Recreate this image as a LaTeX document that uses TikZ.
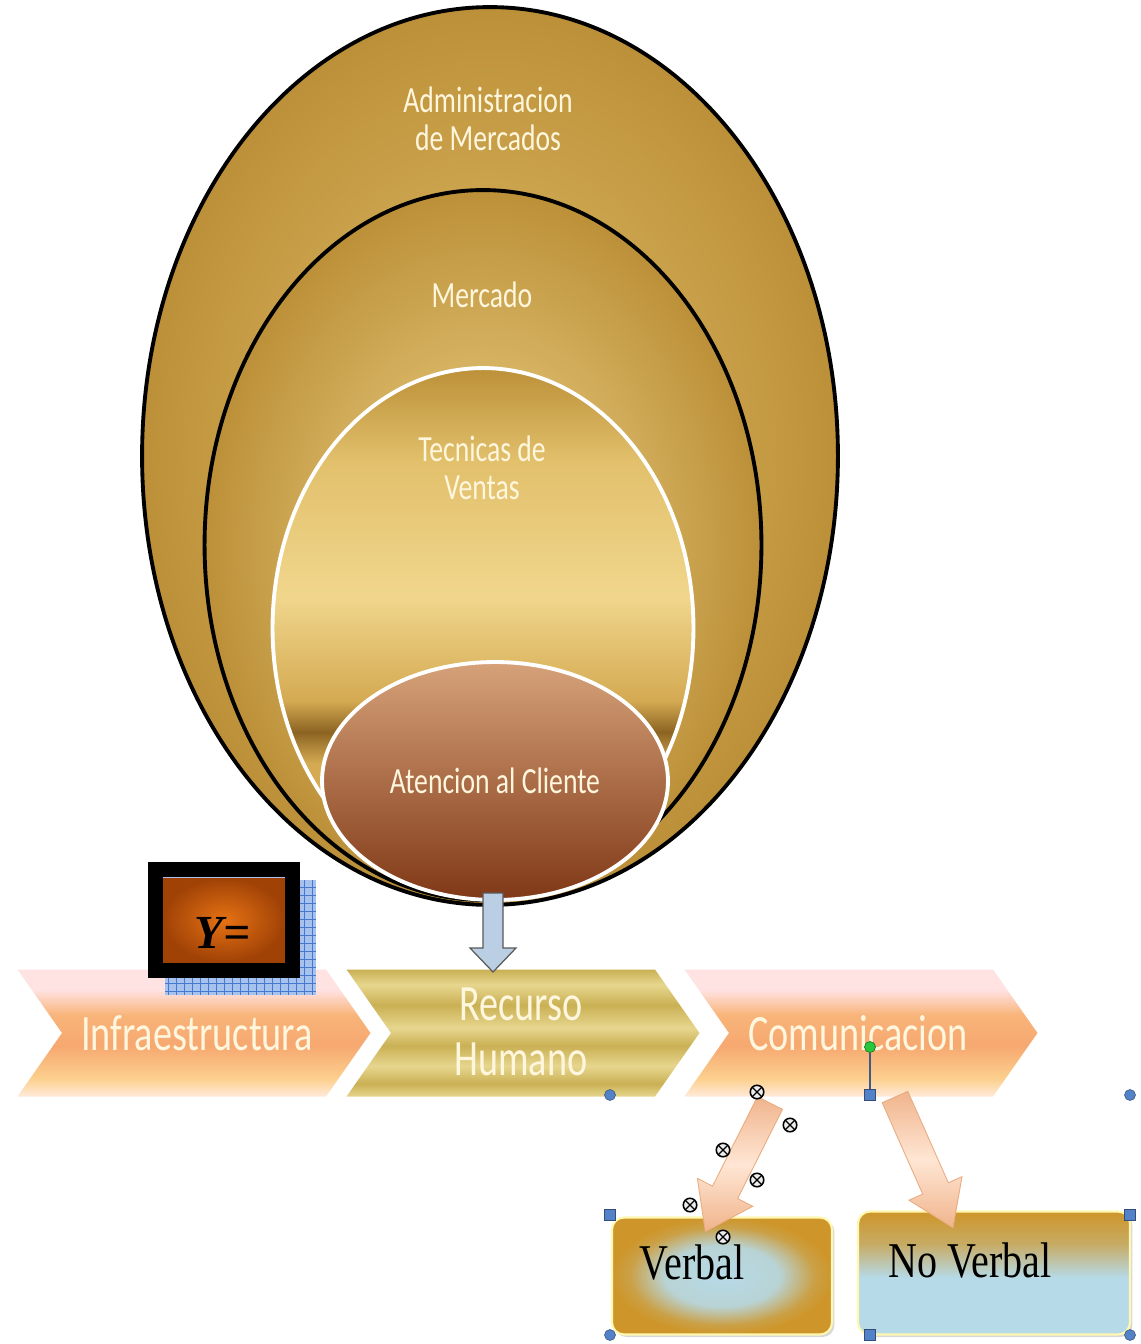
\documentclass[tikz,border=0pt]{standalone}
\usepackage{fontspec}
\setmainfont{Liberation Serif}
\newfontfamily\calibri[FakeStretch=0.75]{Carlito}
\newfontfamily\timesn[FakeStretch=0.8]{Liberation Serif}
\usetikzlibrary{shapes,calc,shadows}
\definecolor{goldouter}{RGB}{188,144,56}
\definecolor{goldinner}{RGB}{226,192,108}
\definecolor{goldlight}{RGB}{240,214,140}
\definecolor{golddark}{RGB}{140,100,34}
\definecolor{goldmid}{RGB}{212,170,82}
\definecolor{atetop}{RGB}{214,162,122}
\definecolor{atebot}{RGB}{128,56,22}
\definecolor{cream}{RGB}{255,246,222}
\definecolor{peach}{RGB}{246,168,112}
\definecolor{peachlight}{RGB}{255,234,218}
\definecolor{pinktop}{RGB}{255,226,226}
\definecolor{chevyellow}{RGB}{252,208,142}
\definecolor{chevgold}{RGB}{202,176,84}
\definecolor{chevgoldlight}{RGB}{230,214,142}
\definecolor{ybrown}{RGB}{160,66,6}
\definecolor{yorange}{RGB}{230,114,20}
\definecolor{gridblue}{RGB}{70,120,210}
\definecolor{gridfill}{RGB}{168,194,238}
\definecolor{arrowblue}{RGB}{186,206,228}
\definecolor{boxgold}{RGB}{206,150,42}
\definecolor{boxblue}{RGB}{182,218,232}
\definecolor{handleblue}{RGB}{84,130,200}
\definecolor{handlegreen}{RGB}{40,200,60}
\definecolor{arrowpeach}{RGB}{240,180,140}
\definecolor{arrowlight}{RGB}{255,230,212}

% shadings (the path is fitted into 25bp--75bp)
\pgfdeclareverticalshading{chevorange}{100bp}{color(0bp)=(peachlight); color(25bp)=(peachlight); color(32bp)=(chevyellow); color(45bp)=(peach); color(57bp)=(peach!70!chevyellow); color(67bp)=(pinktop); color(75bp)=(pinktop); color(100bp)=(pinktop)}
\pgfdeclareverticalshading{chevstripes}{100bp}{color(0bp)=(chevgoldlight); color(25bp)=(chevgoldlight); color(30bp)=(chevgold); color(37bp)=(chevgoldlight); color(45bp)=(chevgold); color(52bp)=(chevgoldlight); color(61bp)=(chevgold); color(69bp)=(chevgoldlight); color(75bp)=(chevgold); color(100bp)=(chevgold)}
\pgfdeclareverticalshading{tecband}{100bp}{color(0bp)=(goldmid); color(25bp)=(goldmid); color(37bp)=(goldmid); color(40bp)=(golddark); color(43bp)=(goldmid); color(53bp)=(goldlight); color(66bp)=(goldinner); color(75bp)=(goldouter); color(100bp)=(goldouter)}
\pgfdeclareverticalshading{goldtoblue}{100bp}{color(0bp)=(boxblue); color(25bp)=(boxblue); color(48bp)=(boxblue); color(62bp)=(boxgold!70!boxblue); color(75bp)=(boxgold); color(100bp)=(boxgold)}
\pgfdeclareradialshading{boxglow}{\pgfpoint{0bp}{0bp}}{color(0bp)=(boxblue); color(13bp)=(boxblue!90!boxgold); color(21bp)=(boxgold!85!boxblue); color(25bp)=(boxgold); color(50bp)=(boxgold)}

\begin{document}
\begin{tikzpicture}[x=0.02cm, y=-0.02cm,
    ring/.style={ellipse, inner sep=0, line width=2.2pt},
    lbl/.style={text=cream, font=\calibri\fontsize{21}{21.5}\selectfont, align=center, inner sep=0},
    chev/.style={signal, signal from=west, signal to=east, signal pointer angle=110,
        minimum width=7.06cm, minimum height=2.54cm, inner sep=0, shading=#1},
    chevlbl/.style={text=cream, font=\calibri\fontsize{29}{31}\selectfont, align=center, inner sep=0},
    box/.style={rounded corners=0.24cm, draw=cream!80!yellow, line width=1.2pt, inner sep=0,
        drop shadow={opacity=0.3, shadow xshift=0.05cm, shadow yshift=-0.05cm}},
    boxlbl/.style={font=\timesn\fontsize{28.5}{30}\selectfont, inner sep=0},
    blockarr/.style={top color=arrowpeach, bottom color=arrowpeach, middle color=arrowlight,
        draw=arrowpeach!85!brown, line width=0.5pt},
    dot/.style={circle, fill=handleblue, draw=handleblue!60!black, line width=0.3pt, minimum size=0.22cm, inner sep=0},
    sq/.style={rectangle, fill=handleblue, draw=handleblue!60!black, line width=0.3pt, minimum size=0.22cm, inner sep=0},
    omark/.style={circle, draw=black, fill=gray!15, line width=0.9pt, minimum size=0.27cm, inner sep=0,
        path picture={\draw[line width=0.7pt] (path picture bounding box.north west) -- (path picture bounding box.south east)
            (path picture bounding box.north east) -- (path picture bounding box.south west);}}
]
\useasboundingbox (0,0) rectangle (1141,1344);
\fill[white] (0,0) rectangle (1141,1344);

% nested rings
\node[ring, draw=black, inner color=goldinner, outer color=goldouter,
    minimum width=13.92cm, minimum height=17.96cm] (adm) at (490,456) {};
\node[ring, draw=black, inner color=goldlight, outer color=goldouter,
    minimum width=11.14cm, minimum height=14.2cm] (mer) at (483,545) {};
\node[ring, draw=white, shading=tecband,
    minimum width=8.42cm, minimum height=10.4cm] (tec) at (483,628) {};
\node[ring, draw=white, top color=atetop, bottom color=atebot,
    minimum width=6.92cm, minimum height=4.76cm, lbl] (ate) at (495,781) {Atencion al Cliente};

\node[lbl] (admtxt) at (488,119) {Administracion\\de Mercados};
\node[lbl] (mertxt) at (482,295) {Mercado};
\node[lbl] (tectxt) at (482,468) {Tecnicas de\\Ventas};

% chevrons
\node[chev=chevorange] (inf) at (194,1033) {};
\node[chev=chevstripes] (rec) at (523,1033) {};
\node[chev=chevorange] (com) at (861,1033) {};
\node[chevlbl] (inftxt) at (197,1033) {Infraestructura};
\node[chevlbl] (rectxt) at (521,1032) {Recurso\\Humano};
\node[chevlbl] (comtxt) at (858,1033) {Comunicacion};

% Y= box
\fill[gridfill] (165,880) rectangle (316,995);
\draw[gridblue, line width=0.4pt, step=0.16cm] (165,880) grid (316,995);
\node[fill=black, minimum width=3.04cm, minimum height=2.32cm, inner sep=0] (yblack) at (224,920) {};
\node[inner color=yorange, outer color=ybrown, minimum width=2.44cm, minimum height=1.68cm, inner sep=0] (ybox) at (224,920) {};
\draw[gridfill, line width=0.8pt] (ybox.north west) -- (ybox.north east);
\node[font=\fontsize{27}{27}\selectfont, inner sep=0] (ytxt) at (223,933) {\textbf{\textit{Y=}}};

% down arrow into the chevron row
\coordinate (dtail) at (493,893);
\begin{scope}[shift={(dtail)}, rotate=-90]
  \draw[fill=arrowblue, draw=gray!70!black, line width=0.7pt]
    (0,-10) -- (55,-10) -- (55,-23) -- (79,0) -- (55,23) -- (55,10) -- (0,10) -- cycle;
\end{scope}

% bottom boxes
\node[box, shading=boxglow, minimum width=4.4cm, minimum height=2.34cm] (verb) at (722,1276) {};
\node[box, shading=goldtoblue, minimum width=5.44cm, minimum height=2.46cm] (noverb) at (994,1273) {};
\node[boxlbl] (verbtxt) at (692,1262) {Verbal};
\node[boxlbl] (noverbtxt) at (970,1260) {No Verbal};

% block arrows from Comunicacion
\coordinate (lt) at (770,1103);
\coordinate (rt) at (895,1097);
\begin{scope}[shift={(lt)}, rotate=243.3]
  \shade[blockarr] (0,-14) -- (100,-14) -- (100,-31) -- (144,0) -- (100,31) -- (100,14) -- (0,14) -- cycle;
\end{scope}
\begin{scope}[shift={(rt)}, rotate=293.9]
  \shade[blockarr] (0,-14) -- (100,-14) -- (100,-29) -- (143,0) -- (100,29) -- (100,14) -- (0,14) -- cycle;
\end{scope}

% selection handles
\node[dot] (h1) at (610,1095) {};
\node[dot] (h2) at (1130,1095) {};
\node[dot] (h3) at (610,1335) {};
\node[dot] (h4) at (1130,1335) {};
\node[circle, fill=handlegreen, draw=handlegreen!60!black, minimum size=0.22cm, inner sep=0] (rot) at (870,1047) {};
\node[sq] (s1) at (870,1095) {};
\draw[handleblue!70!black, line width=0.6pt] (rot) -- (s1);
\node[sq] (s2) at (610,1215) {};
\node[sq] (s3) at (1130,1215) {};
\node[sq] (s4) at (870,1335) {};
\foreach \px/\py [count=\i] in {757/1092, 790/1125, 723/1150, 757/1180, 690/1205, 723/1237}
  \node[omark] (m\i) at (\px,\py) {};
\end{tikzpicture}
\end{document}
